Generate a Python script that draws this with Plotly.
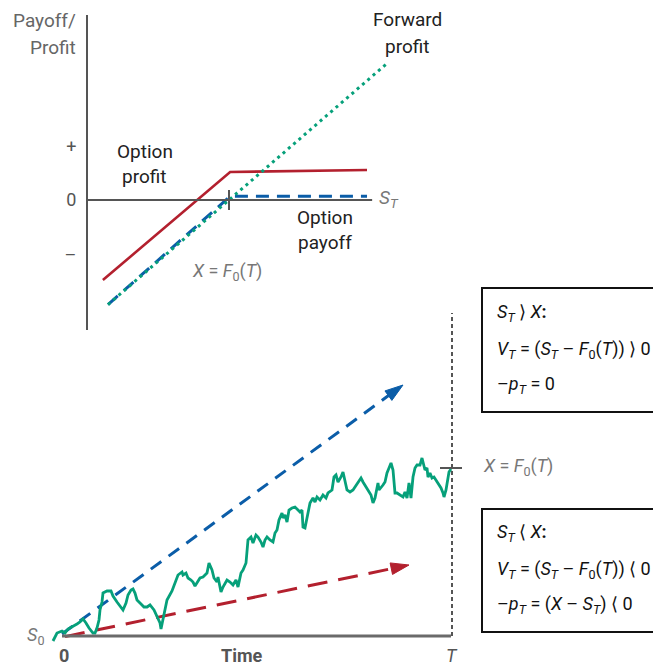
import plotly.graph_objects as go

# ---------------- Top panel: payoff / profit vs S_T ----------------
strike = 50
fwd_x = [7.4, 106]
fwd_y = [-42.6, 56]
opt_profit_x = [5.6, 50.4, 98.6]
opt_profit_y = [-32.6, 11.4, 12.2]
opt_payoff_x = [7.4, 50.4, 98.6]
opt_payoff_y = [-42.6, 1.5, 1.5]
ytick_vals = [-22.4, 0, 21.6]
ytick_text = ["–", "0", "+"]

# ---------------- Bottom panel: simulated price path ----------------
walk_t = [-9, -5, 0, 3, 6, 10, 15, 18, 21, 24, 27, 31, 33, 35, 37, 38, 40, 41, 45, 49,
          51, 55, 59, 61, 64, 66, 69, 71, 73, 75, 78, 82, 85, 88, 92, 95, 98, 99, 102, 105,
          110, 113, 116, 120, 121, 124, 126, 129, 131, 133, 135, 138, 141, 145, 147, 150, 152, 155, 156, 159,
          161, 165, 168, 171, 174, 176, 179, 181, 184, 185, 186, 189, 191, 194, 196, 199, 201, 203, 205, 208,
          211, 213, 215, 217, 220, 221, 223, 225, 227, 230, 233, 236, 238, 240, 241, 243, 245, 248, 251, 253,
          255, 258, 261, 264, 266, 270, 272, 274, 276, 279, 281, 283, 285, 288, 291, 293, 296, 299, 301, 304,
          306, 309, 311, 313, 315, 316, 317, 320, 321, 323, 325, 327, 329, 331, 332, 333, 335, 338, 341, 343,
          345, 347, 349, 351, 353, 355, 358, 360, 361, 363, 365, 366, 368, 370, 372, 374, 376, 379, 381, 382,
          384, 386, 387, 389]
walk_s = [97.5, 101.5, 102.5, 101.5, 103.5, 104.5, 106, 107, 108.5, 106.5, 104, 101.5, 101.5, 104, 108, 113, 117, 121.5, 122.5, 122.5,
          120, 117, 114.5, 113, 116.5, 120.5, 123, 123.5, 121.5, 118, 116.5, 114.5, 114.5, 115.5, 113, 109.5, 106.5, 103.5, 111, 118,
          122.5, 126.5, 130.5, 132, 130.5, 131.5, 129, 128, 127, 125, 126.5, 129, 129.5, 131.5, 136.5, 133, 129, 127, 129.5, 122,
          124.5, 128, 127, 125.5, 128, 124.5, 131.5, 133, 136.5, 141.5, 148, 149.5, 146.5, 150.5, 149.5, 147, 144.5, 148, 149.5, 148,
          147, 151.5, 153, 158, 161.5, 159, 160.5, 157, 163, 164, 164.5, 163, 162, 163, 154.5, 154, 159.5, 166.5, 169, 167,
          169.5, 168, 170.5, 169, 171.5, 173, 179.5, 180.5, 177, 179.5, 182, 176.5, 173, 172, 173, 174.5, 177, 179, 177, 174.5,
          173, 170.5, 166.5, 169, 174, 176.5, 173, 174.5, 175.5, 177, 181.5, 184, 186.5, 183, 176.5, 171.5, 171.5, 170.5, 169.5, 172,
          169, 176.5, 169, 179.5, 184, 185.5, 185.5, 189, 186.5, 183, 184, 179.5, 181.5, 179, 179.5, 178, 176.5, 174, 171.5, 169.5,
          173, 178, 182, 183.5]
s0 = 100
T = 390
fwd_price = 184
up_arrow_t = [0, 341]
up_arrow_s = [101, 225.5]
down_arrow_t = [3, 347]
down_arrow_s = [99.7, 135.5]

RED = "#B3202E"
BLUE = "#0B5DA8"
GREEN = "#06A07A"
AXIS = "#555555"
LIGHT = "#777777"
FONT = "Roboto"

W, H = 653, 665

fig = go.Figure()

# top panel traces
fig.add_trace(go.Scatter(x=opt_profit_x, y=opt_profit_y, mode="lines",
                         line=dict(color=RED, width=2.6), xaxis="x", yaxis="y", showlegend=False))
fig.add_trace(go.Scatter(x=opt_payoff_x, y=opt_payoff_y, mode="lines",
                         line=dict(color=BLUE, width=3, dash="13px,8px"), xaxis="x", yaxis="y", showlegend=False))
fig.add_trace(go.Scatter(x=fwd_x, y=fwd_y, mode="lines",
                         line=dict(color=GREEN, width=3, dash="3px,4px"), xaxis="x", yaxis="y", showlegend=False))

# bottom panel traces
fig.add_trace(go.Scatter(x=up_arrow_t, y=up_arrow_s, mode="lines+markers",
                         line=dict(color=BLUE, width=3, dash="13px,9px"),
                         marker=dict(symbol="arrow", size=[0, 19], angleref="previous", color=BLUE,
                                     opacity=1, line=dict(color=BLUE, width=1)),
                         xaxis="x2", yaxis="y2", showlegend=False))
fig.add_trace(go.Scatter(x=down_arrow_t, y=down_arrow_s, mode="lines+markers",
                         line=dict(color=RED, width=3, dash="20px,11px"),
                         marker=dict(symbol="arrow", size=[0, 19], angleref="previous", color=RED,
                                     opacity=1, line=dict(color=RED, width=1)),
                         xaxis="x2", yaxis="y2", showlegend=False))
fig.add_trace(go.Scatter(x=walk_t, y=walk_s, mode="lines",
                         line=dict(color=GREEN, width=2.8), xaxis="x2", yaxis="y2", showlegend=False))

shapes = [
    dict(type="line", xref="x", yref="y", x0=0, x1=100.4, y0=0, y1=0,
         line=dict(color=AXIS, width=2)),
    dict(type="line", xref="x", yref="y", x0=strike, x1=strike, y0=-4.1, y1=4.1,
         line=dict(color=AXIS, width=2)),
    dict(type="line", xref="x2", yref="y2", x0=0, x1=T - 1, y0=s0, y1=s0,
         line=dict(color="#6a6a6a", width=3)),
    dict(type="line", xref="x2", yref="y2", x0=T, x1=T, y0=s0, y1=261.5,
         line=dict(color=AXIS, width=2, dash="4px,3px")),
    dict(type="line", xref="x2", yref="y2", x0=T - 12, x1=T + 10, y0=fwd_price, y1=fwd_price,
         line=dict(color=AXIS, width=2)),
    dict(type="rect", xref="paper", yref="paper", x0=482 / W, x1=1.03, y0=1 - 412 / H, y1=1 - 288 / H,
         line=dict(color="#111111", width=2)),
    dict(type="rect", xref="paper", yref="paper", x0=482 / W, x1=1.03, y0=1 - 632 / H, y1=1 - 509 / H,
         line=dict(color="#111111", width=2)),
]

def ann(text, x, y, xref="x", yref="y", size=19, color="#222222", xanchor="center", yanchor="middle"):
    return dict(text=text, x=x, y=y, xref=xref, yref=yref, showarrow=False,
                xanchor=xanchor, yanchor=yanchor,
                font=dict(family=FONT, size=size, color=color))

BOX = "#111111"
annotations = [
    ann("Payoff/", 78 / W, 1 - 20 / H, "paper", "paper", 19, "#666666", "right"),
    ann("Profit", 78 / W, 1 - 47 / H, "paper", "paper", 19, "#666666", "right"),
    ann("Forward", 112.7, 73.7),
    ann("profit", 112.7, 62.7),
    ann("Option", 20.4, 19.6),
    ann("profit", 20.4, 9.4),
    ann("Option", 83.8, -7.3),
    ann("payoff", 83.8, -17.5),
    ann("<i>S<sub>T</sub></i>", 102.0, 0.5, size=19, color=LIGHT, xanchor="left"),
    ann("<i>X</i> = <i>F</i><sub>0</sub>(<i>T</i>)", 49.3, -29.3, size=18, color=LIGHT),
    ann("<i>S</i><sub>0</sub>", -27, 100, "x2", "y2", 18, LIGHT),
    ann("<b>0</b>", 2, 90.5, "x2", "y2", 18, "#555555"),
    ann("<b>Time</b>", 180, 90.5, "x2", "y2", 18, "#555555"),
    ann("<i>T</i>", T, 90.5, "x2", "y2", 18, "#555555"),
    ann("<i>X</i> = <i>F</i><sub>0</sub>(<i>T</i>)", 419, 184.5, "x2", "y2", 18, LIGHT, "left"),
    ann("<i>S<sub>T</sub></i> ⟩ <i>X</i><b>:</b>", 495 / W, 1 - 313 / H, "paper", "paper", 18, BOX, "left"),
    ann("<i>V<sub>T</sub></i> = (<i>S<sub>T</sub></i> – <i>F</i><sub>0</sub>(<i>T</i>)) ⟩ 0", 495 / W, 1 - 350 / H,
        "paper", "paper", 18, BOX, "left"),
    ann("–<i>p<sub>T</sub></i> = 0", 495 / W, 1 - 385 / H, "paper", "paper", 18, BOX, "left"),
    ann("<i>S<sub>T</sub></i> ⟨ <i>X</i><b>:</b>", 495 / W, 1 - 533 / H, "paper", "paper", 18, BOX, "left"),
    ann("<i>V<sub>T</sub></i> = (<i>S<sub>T</sub></i> – <i>F</i><sub>0</sub>(<i>T</i>)) ⟨ 0", 495 / W, 1 - 570 / H,
        "paper", "paper", 18, BOX, "left"),
    ann("–<i>p<sub>T</sub></i> = (<i>X</i> – <i>S<sub>T</sub></i>) ⟨ 0", 495 / W, 1 - 605 / H,
        "paper", "paper", 18, BOX, "left"),
]

fig.update_layout(
    width=W, height=H,
    margin=dict(l=0, r=0, t=0, b=0),
    paper_bgcolor="white", plot_bgcolor="rgba(0,0,0,0)",
    font=dict(family=FONT),
    showlegend=False,
    xaxis=dict(domain=[0, 1], range=[-87 / 2.84, (W - 87) / 2.84], visible=False, fixedrange=True),
    yaxis=dict(domain=[1 - 330 / H, 1 - 15 / H], range=[-(330 - 200) / 2.455, (200 - 15) / 2.455],
               anchor="free", position=87 / W, showline=True, linecolor=AXIS, linewidth=2,
               showgrid=False, zeroline=False, ticks="", tickvals=ytick_vals, ticktext=ytick_text,
               ticklabelstandoff=6, tickfont=dict(family=FONT, size=18, color=AXIS), fixedrange=True),
    xaxis2=dict(domain=[0, 1], range=[-62, W - 62], visible=False, anchor="y2", fixedrange=True),
    yaxis2=dict(domain=[0, 1 - 290 / H], range=[100 - 29 / 2, 100 + 346 / 2], visible=False,
                anchor="x2", fixedrange=True),
    shapes=shapes,
    annotations=annotations,
)

fig.write_html("out.html", config={"displayModeBar": False},
               post_script="document.body.style.margin='0';document.body.style.overflow='hidden';")
